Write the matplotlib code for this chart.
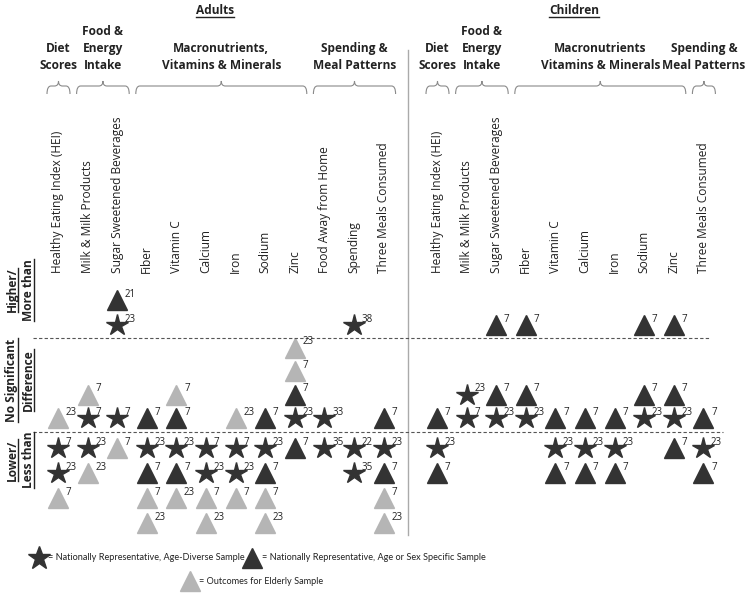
import matplotlib
matplotlib.use('Agg')
import matplotlib.pyplot as plt
from matplotlib.path import Path
from matplotlib.patches import PathPatch

plt.rcParams['font.family'] = ['Open Sans', 'DejaVu Sans']

# Columns (outcomes) for each population
adult_cols = ["Healthy Eating Index (HEI)", "Milk & Milk Products", "Sugar Sweetened Beverages",
              "Fiber", "Vitamin C", "Calcium", "Iron", "Sodium", "Zinc",
              "Food Away from Home", "Spending", "Three Meals Consumed"]
child_cols = ["Healthy Eating Index (HEI)", "Milk & Milk Products", "Sugar Sweetened Beverages",
              "Fiber", "Vitamin C", "Calcium", "Iron", "Sodium", "Zinc", "Three Meals Consumed"]

# S = nationally representative age-diverse (star)
# T = nationally representative age/sex specific (dark triangle)
# G = elderly sample (grey triangle)
# second item = reference number
adult_higher = {
    "Sugar Sweetened Beverages": [("S", 23), ("T", 21)],
    "Spending": [("S", 38)],
}
adult_same = {
    "Healthy Eating Index (HEI)": [("G", 23)],
    "Milk & Milk Products": [("S", 7), ("G", 7)],
    "Sugar Sweetened Beverages": [("S", 7)],
    "Fiber": [("T", 7)],
    "Vitamin C": [("T", 7), ("G", 7)],
    "Iron": [("G", 23)],
    "Sodium": [("T", 7)],
    "Zinc": [("S", 23), ("T", 7), ("G", 7), ("G", 23)],
    "Food Away from Home": [("S", 33)],
    "Three Meals Consumed": [("T", 7)],
}
adult_lower = {
    "Healthy Eating Index (HEI)": [("S", 7), ("S", 23), ("G", 7)],
    "Milk & Milk Products": [("S", 23), ("G", 23)],
    "Sugar Sweetened Beverages": [("G", 7)],
    "Fiber": [("S", 23), ("T", 7), ("G", 7), ("G", 23)],
    "Vitamin C": [("S", 23), ("T", 7), ("G", 23)],
    "Calcium": [("S", 7), ("S", 23), ("G", 7), ("G", 23)],
    "Iron": [("S", 7), ("S", 23), ("G", 7)],
    "Sodium": [("S", 23), ("T", 7), ("G", 7), ("G", 23)],
    "Zinc": [("T", 7)],
    "Food Away from Home": [("S", 35)],
    "Spending": [("S", 22), ("S", 35)],
    "Three Meals Consumed": [("S", 23), ("T", 7), ("G", 7), ("G", 23)],
}
child_higher = {
    "Sugar Sweetened Beverages": [("T", 7)],
    "Fiber": [("T", 7)],
    "Sodium": [("T", 7)],
    "Zinc": [("T", 7)],
}
child_same = {
    "Healthy Eating Index (HEI)": [("T", 7)],
    "Milk & Milk Products": [("S", 7), ("S", 23)],
    "Sugar Sweetened Beverages": [("S", 23), ("T", 7)],
    "Fiber": [("S", 23), ("T", 7)],
    "Vitamin C": [("T", 7)],
    "Calcium": [("T", 7)],
    "Iron": [("T", 7)],
    "Sodium": [("S", 23), ("T", 7)],
    "Zinc": [("S", 23), ("T", 7)],
    "Three Meals Consumed": [("T", 7)],
}
child_lower = {
    "Healthy Eating Index (HEI)": [("S", 23), ("T", 7)],
    "Vitamin C": [("S", 23), ("T", 7)],
    "Calcium": [("S", 23), ("T", 7)],
    "Iron": [("S", 23), ("T", 7)],
    "Zinc": [("T", 7)],
    "Three Meals Consumed": [("S", 23), ("T", 7)],
}

# header groups: (label, first column, last column)
adult_groups = [("Diet\nScores", 0, 0), ("Food &\nEnergy\nIntake", 1, 2),
                ("Macronutrients,\nVitamins & Minerals", 3, 8), ("Spending &\nMeal Patterns", 9, 11)]
child_groups = [("Diet\nScores", 0, 0), ("Food &\nEnergy\nIntake", 1, 2),
                ("Macronutrients\nVitamins & Minerals", 3, 8), ("Spending &\nMeal Patterns", 9, 9)]

DARK = '#333333'
GREY = '#b5b5b5'
TXT = '#222222'
styles = {"S": ('*', DARK, 16), "T": ('^', DARK, 14), "G": ('^', GREY, 14)}

# layout (pixel-like units, y grows downward)
DX = 29.6
ADULT_X0 = 58
CHILD_X0 = 437
LABEL_Y = 273
LINE1_Y = 338
LINE2_Y = 432
# section: (first row y, step between stacked markers)
sections = {"higher": (325, -25), "same": (418, -23.5), "lower": (448, 25)}

fig = plt.figure(figsize=(7.5, 5.99), dpi=100)
ax = fig.add_axes([0, 0, 1, 1])
ax.set_xlim(0, 750)
ax.set_ylim(599, 0)
ax.axis('off')

to_underline = []


def brace(x0, x1, y):
    xm = (x0 + x1) / 2
    r = 4
    verts = [(x0, y + 8), (x0, y), (x0 + r, y), (xm - r, y), (xm, y), (xm, y - 5),
             (xm, y), (xm + r, y), (x1 - r, y), (x1, y), (x1, y + 8)]
    codes = [Path.MOVETO, Path.CURVE3, Path.CURVE3, Path.LINETO, Path.CURVE3, Path.CURVE3,
             Path.CURVE3, Path.CURVE3, Path.LINETO, Path.CURVE3, Path.CURVE3]
    ax.add_patch(PathPatch(Path(verts, codes), fill=False, ec='#8a8a8a', lw=0.8))


def draw_population(cols, x0, groups, data, title, title_x):
    xs = {c: x0 + i * DX for i, c in enumerate(cols)}
    for c in cols:
        ax.text(xs[c], LABEL_Y, c, rotation=90, ha='center', va='bottom', fontsize=8.6, color=TXT)
    for label, a, b in groups:
        left = xs[cols[a]] - 11
        right = xs[cols[b]] + 12
        brace(left, right, 86)
        ax.text((left + right) / 2, 72, label, ha='center', va='bottom', fontsize=8.6,
                fontweight='bold', color=TXT, linespacing=1.4)
    t = ax.text(title_x, 11, title, ha='center', va='center', fontsize=8.6,
                fontweight='bold', color=TXT)
    to_underline.append(t)
    for sec, entries in data.items():
        y0, step = sections[sec]
        for col, items in entries.items():
            for k, (kind, ref) in enumerate(items):
                m, colr, ms = styles[kind]
                y = y0 + k * step
                ax.plot(xs[col], y, marker=m, color=colr, ms=ms, mec=colr, ls='none')
                ax.annotate(str(ref), (xs[col], y), xytext=(5.5, 4), textcoords='offset points',
                            ha='left', va='center', fontsize=7, color=TXT)
    return xs


ad_x = draw_population(adult_cols, ADULT_X0, adult_groups,
                       {"higher": adult_higher, "same": adult_same, "lower": adult_lower},
                       'Adults', 215)
ch_x = draw_population(child_cols, CHILD_X0, child_groups,
                       {"higher": child_higher, "same": child_same, "lower": child_lower},
                       'Children', 574)

# separator and section lines
sep_x = (ad_x[adult_cols[-1]] + ch_x[child_cols[0]]) / 2 - 2
ax.plot([sep_x, sep_x], [50, 535], color='#aaaaaa', lw=1)
ax.plot([33, 710], [LINE1_Y, LINE1_Y], color='#555555', lw=0.8, ls=(0, (3, 2)))
ax.plot([33, 723], [LINE2_Y, LINE2_Y], color='#555555', lw=0.8, ls=(0, (3, 2)))

# row labels, each line drawn separately so it can be underlined
row_labels = [(("Higher/", "More than"), 290),
              (("No Significant", "Difference"), 380),
              (("Lower/", "Less than"), 460)]
for lines, y in row_labels:
    for j, line in enumerate(lines):
        t = ax.text(12 + j * 16, y, line, rotation=90, ha='center', va='center', fontsize=8.6,
                    fontweight='bold', color=TXT)
        to_underline.append(t)

# legend
leg_font = ['Lato', 'DejaVu Sans']
ax.plot(39, 558, marker='*', color=DARK, ms=17, ls='none')
ax.text(48, 558, '= Nationally Representative, Age-Diverse Sample', va='center', ha='left',
        fontsize=6.6, family=leg_font, color=TXT)
ax.plot(252, 558, marker='^', color=DARK, ms=15, ls='none')
ax.text(262, 558, '= Nationally Representative, Age or Sex Specific Sample', va='center', ha='left',
        fontsize=6.6, family=leg_font, color=TXT)
ax.plot(190, 581, marker='^', color=GREY, ms=15, ls='none')
ax.text(199, 581, '= Outcomes for Elderly Sample', va='center', ha='left',
        fontsize=6.6, family=leg_font, color=TXT)

# underline: measure rendered text and draw a line along its baseline side
fig.canvas.draw()
renderer = fig.canvas.get_renderer()
inv = ax.transData.inverted()
for t in to_underline:
    bb = t.get_window_extent(renderer)
    (x0, y0), (x1, y1) = inv.transform([(bb.x0, bb.y0), (bb.x1, bb.y1)])
    if t.get_rotation() == 90:
        ax.plot([x1 - 1, x1 - 1], [y0, y1], color=TXT, lw=1)
    else:
        ax.plot([x0, x1], [y0 - 1, y0 - 1], color=TXT, lw=1)

fig.savefig('out.png', dpi=100, facecolor='white')
